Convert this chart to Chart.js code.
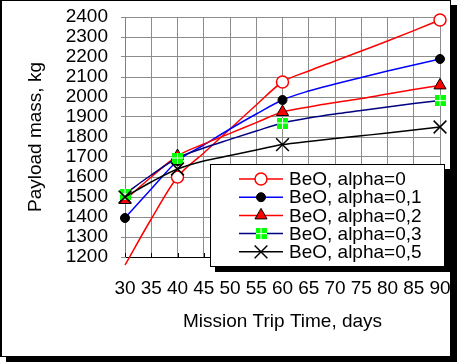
<!DOCTYPE html>
<html><head><meta charset="utf-8">
<script src="https://cdn.jsdelivr.net/npm/chart.js@4.4.0/dist/chart.umd.min.js"></script>
<style>
html,body{margin:0;padding:0;background:#fff;}
#wrap{position:relative;width:457px;height:362px;overflow:hidden;}
#frame{position:absolute;left:0;top:0;width:448px;height:355px;border:1px solid #000;border-left:2px solid #000;box-shadow:6px 5px 0 #000;background:#fff;}
canvas{position:absolute;left:0;top:0;}
</style></head><body>
<div id="wrap"><div id="frame"></div><canvas id="c" width="457" height="362"></canvas></div>
<script>
// ---- data ----
const days = [30,35,40,45,50,55,60,65,70,75,80,85,90];
const alpha0  = [1160,1390,1600,1720,1840,1960,2075,2130,2180,2230,2280,2332,2385];
const alpha01 = [1395,1540,1680,1760,1840,1915,1985,2030,2065,2098,2130,2160,2190];
const alpha02 = [1485,1600,1705,1765,1818,1872,1925,1950,1972,1992,2015,2037,2058];
const alpha03 = [1515,1610,1695,1745,1788,1830,1870,1895,1915,1932,1950,1967,1982];
const alpha05 = [1500,1575,1640,1680,1707,1735,1762,1778,1792,1806,1820,1835,1850];
const markerDays = [30,40,60,90];
const seriesNames = ['BeO, alpha=0','BeO, alpha=0,1','BeO, alpha=0,2','BeO, alpha=0,3','BeO, alpha=0,5'];
const yTicks = [1200,1300,1400,1500,1600,1700,1800,1900,2000,2100,2200,2300,2400];
const xTicks = [30,35,40,45,50,55,60,65,70,75,80,85,90];

const FONT = {family:'"Liberation Sans", Arial, sans-serif', size:19};

// green square marker with white cross
function greenSquare(){
  const c = document.createElement('canvas'); c.width = 11; c.height = 11;
  const g = c.getContext('2d');
  g.fillStyle = '#00FF00'; g.fillRect(0,0,11,11);
  g.fillStyle = '#FFFFFF'; g.fillRect(5,0,1,11); g.fillRect(0,5,11,1);
  return c;
}
const gsq = greenSquare();

function radii(r, skipFirst){
  return days.map((d,i)=> (markerDays.includes(d) && !(skipFirst && i===0)) ? r : 0);
}
function mk(label, data, line, ps, r, bg, bc, bw, order, skipFirst){
  return {label, data: days.map((d,i)=>({x:d,y:data[i]})), borderColor: line, borderWidth: 1.5,
    pointStyle: ps, pointRadius: radii(r, skipFirst), pointHoverRadius: radii(r, skipFirst),
    pointBackgroundColor: bg, pointBorderColor: bc, pointBorderWidth: bw,
    cubicInterpolationMode:'monotone', clip:false, order,
    _legend:{ps, r, bg, bc, bw, line}};
}
const datasets = [
  mk(seriesNames[0], alpha0, '#FF0000', 'circle', 6, '#FFFFFF', '#FF0000', 1.5, 4, true),
  mk(seriesNames[1], alpha01, '#0000FF', 'circle', 4.5, '#000000', '#000000', 1, 3, false),
  mk(seriesNames[2], alpha02, '#FF0000', 'triangle', 7, '#FF0000', '#000000', 1, 2, false),
  mk(seriesNames[3], alpha03, '#000080', gsq, 6, '#00FF00', '#00FF00', 0, 1, false),
  mk(seriesNames[4], alpha05, '#000000', 'crossRot', 9, '#000000', '#000000', 1.5, 0, false),
];

const insideTicks = {
  id:'insideTicks',
  afterDraw(chart){
    const x = chart.scales.x, ctx = chart.ctx, b = chart.chartArea.bottom;
    ctx.save(); ctx.strokeStyle='#000'; ctx.lineWidth=1;
    xTicks.forEach(v=>{ const p = Math.round(x.getPixelForValue(v))+0.5;
      ctx.beginPath(); ctx.moveTo(p,b); ctx.lineTo(p,b-4); ctx.stroke(); });
    ctx.restore();
  }
};

const boxLegend = {
  id:'boxLegend',
  afterDraw(chart){
    const ctx = chart.ctx, ca = chart.chartArea;
    const bx = ca.left + 85, by = ca.top + 147, bw = 235, bh = 103;
    ctx.save();
    ctx.fillStyle = '#000'; ctx.fillRect(bx+5, by+5, bw, bh);
    ctx.fillStyle = '#fff'; ctx.fillRect(bx, by, bw, bh);
    ctx.strokeStyle = '#000'; ctx.lineWidth = 1; ctx.strokeRect(bx+0.5, by+0.5, bw-1, bh-1);
    chart.data.datasets.forEach((ds,i)=>{
      const L = ds._legend; const y = by + 15 + i*18.2;
      ctx.strokeStyle = L.line; ctx.lineWidth = 1.5;
      ctx.beginPath(); ctx.moveTo(bx+29, y); ctx.lineTo(bx+73, y); ctx.stroke();
      ctx.fillStyle = L.bg; ctx.strokeStyle = L.bc; ctx.lineWidth = L.bw;
      Chart.helpers.drawPoint(ctx, {pointStyle:L.ps, radius:L.r, rotation:0, borderWidth:L.bw}, bx+51, y);
      ctx.fillStyle = '#000'; ctx.font = '19px "Liberation Sans", Arial, sans-serif';
      ctx.textBaseline = 'middle'; ctx.textAlign = 'left';
      ctx.fillText(ds.label, bx+79, y+1);
    });
    ctx.restore();
  }
};

new Chart(document.getElementById('c'), {
  type:'line',
  data:{datasets},
  options:{
    responsive:false, animation:false, devicePixelRatio:1,
    layout:{autoPadding:false, padding:{left:0, top:17, right:17, bottom:0}},
    plugins:{legend:{display:false}, tooltip:{enabled:false}},
    scales:{
      x:{type:'linear', min:30, max:90,
        afterBuildTicks(s){ s.ticks = xTicks.map(v=>({value:v})); },
        afterFit(s){ s.height = 105; s.paddingLeft = 0; s.paddingRight = 0; s.paddingTop = 0; s.paddingBottom = 0; },
        ticks:{autoSkip:false, maxRotation:0, color:'#000', font:FONT, padding:20, callback:v=>String(v)},
        grid:{color:'#8c8c8c', lineWidth:1, drawTicks:false},
        border:{color:'#000', width:1},
        title:{display:true, text:'Mission Trip Time, days', color:'#000', font:FONT, padding:{top:0,bottom:29}}
      },
      y:{type:'linear', min:1200, max:2400,
        afterBuildTicks(s){ s.ticks = yTicks.map(v=>({value:v})); },
        afterFit(s){ s.width = 125; s.paddingLeft = 0; s.paddingRight = 0; s.paddingTop = 0; s.paddingBottom = 0; },
        ticks:{autoSkip:false, color:'#000', font:FONT, padding:13, callback:v=>String(v)},
        grid:{color:'#8c8c8c', lineWidth:1, drawTicks:true, tickLength:4},
        border:{color:'#808080', width:1},
        title:{display:true, text:'Payload mass, kg', color:'#000', font:FONT, padding:{top:24,bottom:0}}
      }
    }
  },
  plugins:[insideTicks, boxLegend]
});
</script>
</body></html>
